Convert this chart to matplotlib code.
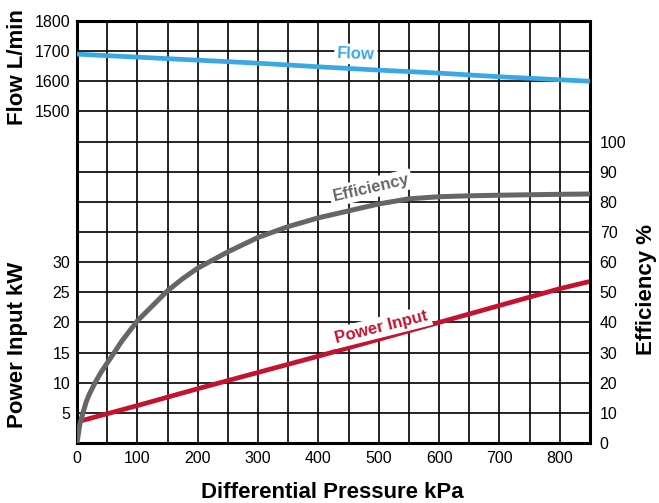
import matplotlib
matplotlib.use('Agg')
import matplotlib.pyplot as plt

# data
pressure = [0, 5, 10, 15, 20, 30, 40, 50, 60, 75, 100, 125, 150, 175, 200,
            250, 300, 350, 400, 450, 500, 550, 600, 650, 700, 800, 850]
efficiency = [0, 6.5, 10, 13.5, 16, 20, 23.5, 26.5, 29.5, 34, 40.5, 45.5, 50.5,
              54.5, 58, 63.4, 68.2, 71.8, 74.7, 77, 79.3, 81, 81.7, 82, 82.2,
              82.5, 82.6]

flow_p = [0, 100, 200, 300, 400, 500, 600, 700, 800, 850]
flow = [1690, 1680, 1670, 1660, 1648, 1637, 1627, 1615, 1605, 1600]

power_p = [0, 100, 200, 300, 400, 500, 600, 700, 800, 850]
power = [3.5, 6.2, 9.0, 11.7, 14.4, 17.2, 20.0, 22.8, 25.6, 26.8]

x_ticks = [0, 100, 200, 300, 400, 500, 600, 700, 800]
power_ticks = [5, 10, 15, 20, 25, 30]
flow_ticks = [1500, 1600, 1700, 1800]
eff_ticks = [0, 10, 20, 30, 40, 50, 60, 70, 80, 90, 100]

c_flow = '#3aa8e6'
c_eff = '#666666'
c_power = '#c4122f'

plt.rcParams['font.family'] = ['Liberation Sans', 'DejaVu Sans']

fig = plt.figure(figsize=(6.59, 5.03), dpi=100)
ax = fig.add_axes([0.1168, 0.1193, 0.8953 - 0.1168, 0.9583 - 0.1193])
ax.set_xlim(0, 850)
ax.set_ylim(0, 70)

# grid every 50 kPa and every 5 kW
ax.set_xticks(range(0, 851, 50), minor=True)
ax.set_xticks(x_ticks)
ax.set_xticklabels([str(v) for v in x_ticks])
ax.set_yticks(range(0, 71, 5))
ax.set_yticklabels([str(v) if v in power_ticks else '' for v in range(0, 71, 5)])
ax.grid(True, which='both', color='black', linewidth=1.2)
ax.set_axisbelow(True)
ax.tick_params(which='both', length=0, labelsize=11.5)
ax.tick_params(axis='x', pad=6)
ax.tick_params(axis='y', pad=5)
for s in ax.spines.values():
    s.set_linewidth(2.2)

ax_flow = ax.twinx()
ax_flow.set_ylim(400, 1800)
ax_flow.yaxis.tick_left()
ax_flow.set_yticks(flow_ticks)
ax_flow.tick_params(length=0, labelsize=11.5, pad=5)

ax_eff = ax.twinx()
ax_eff.set_ylim(0, 140)
ax_eff.set_yticks(eff_ticks)
ax_eff.tick_params(length=0, labelsize=11.5, pad=7)

for a in (ax_flow, ax_eff):
    for s in a.spines.values():
        s.set_visible(False)

ax.plot(power_p, power, color=c_power, lw=3.4, solid_capstyle='butt', clip_on=False)
ax_flow.plot(flow_p, flow, color=c_flow, lw=3.4, solid_capstyle='butt')
ax_eff.plot(pressure, efficiency, color=c_eff, lw=3.6, solid_capstyle='butt',
            solid_joinstyle='round')

box = dict(facecolor='white', edgecolor='none', pad=2)
ax_eff.text(462, 129, 'Flow', color=c_flow, fontsize=12, fontweight='bold',
            ha='center', va='center', rotation=-2, bbox=box)
ax_eff.text(487, 84.6, 'Efficiency', color=c_eff, fontsize=12, fontweight='bold',
            ha='center', va='center', rotation=13, bbox=box)
ax_eff.text(505, 38.5, 'Power Input', color=c_power, fontsize=12, fontweight='bold',
            ha='center', va='center', rotation=14, bbox=box)

fig.text(0.027, 0.867, 'Flow L/min', rotation=90, fontsize=16, fontweight='bold',
         ha='center', va='center')
fig.text(0.027, 0.314, 'Power Input kW', rotation=90, fontsize=16, fontweight='bold',
         ha='center', va='center')
fig.text(0.981, 0.425, 'Efficiency %', rotation=90, fontsize=16, fontweight='bold',
         ha='center', va='center')
fig.text(0.505, 0.02, 'Differential Pressure kPa', fontsize=16, fontweight='bold',
         ha='center', va='center')

fig.savefig('out.png', dpi=100)
